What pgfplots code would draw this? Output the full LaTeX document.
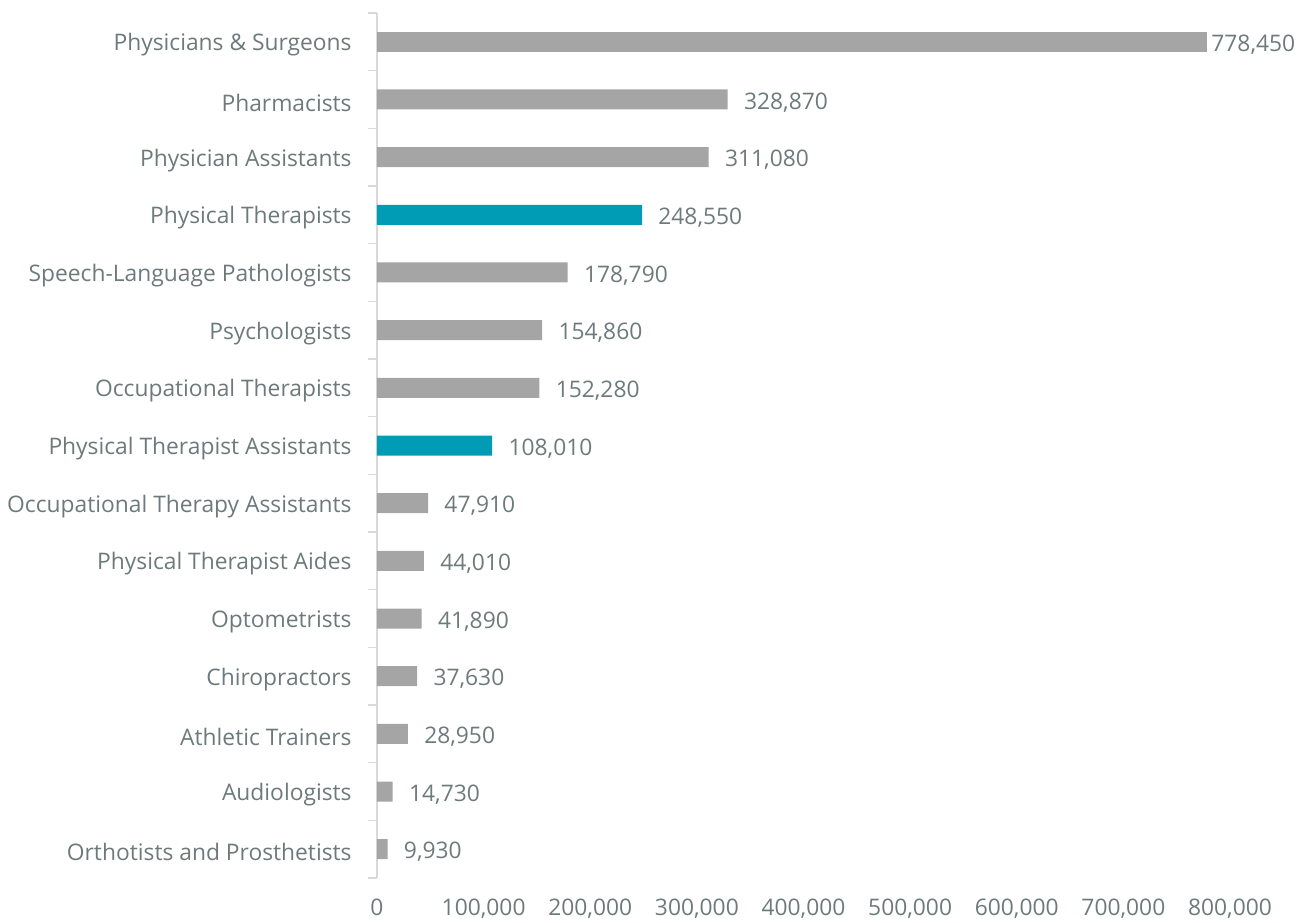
\documentclass[border=0pt]{standalone}
\usepackage{fontspec}
\setmainfont{Open Sans}
\usepackage{pgfplots}
\pgfplotsset{compat=1.18}
\definecolor{barGray}{HTML}{A5A5A5}
\definecolor{barTeal}{HTML}{009CB5}
\definecolor{txtGray}{HTML}{6E7A7A}
\definecolor{axGray}{HTML}{D9D9D9}

\begin{document}
\begin{tikzpicture}
\useasboundingbox (-188.5pt,-22pt) rectangle (461pt,439pt);
\begin{axis}[
    at={(0,0)}, anchor=south west,
    scale only axis,
    width=426.5pt, height=432.5pt,
    xbar, bar width=10pt, bar shift=0pt,
    xmin=0, xmax=800000,
    ymin=-0.5, ymax=14.5,
    axis x line*=bottom,
    axis y line*=left,
    x axis line style={draw=none},
    y axis line style={draw=axGray, line width=0.75pt},
    ytick={0,...,14},
    yticklabels={Orthotists and Prosthetists, Audiologists, Athletic Trainers, Chiropractors, Optometrists, Physical Therapist Aides, Occupational Therapy Assistants, Physical Therapist Assistants, Occupational Therapists, Psychologists, Speech-Language Pathologists, Physical Therapists, Physician Assistants, Pharmacists, Physicians \& Surgeons},
    major tick length=0pt,
    minor ytick={-0.5,0.5,...,14.5},
    minor tick length=4.5pt,
    tick align=outside,
    minor tick style={draw=axGray, line width=0.75pt},
    yticklabel style={font=\fontsize{11.4}{13}\selectfont, text=txtGray, anchor=east, inner sep=0pt, yshift=-1.5pt},
    yticklabel shift=12.5pt,
    /pgf/number format/.cd, fixed, 1000 sep={,}, assume math mode=true,
    /pgfplots/.cd,
    xtick={0,100000,...,800000},
    scaled x ticks=false,
    xticklabel style={font=\fontsize{11.4}{13}\selectfont, text=txtGray, anchor=base, inner sep=0pt, yshift=-18.5pt},
    nodes near coords,
    every node near coord/.append style={font=\fontsize{11.4}{13}\selectfont, text=txtGray, anchor=west, inner sep=0pt, xshift=8pt, yshift=-1.5pt},
    clip=false,
]
\addplot[fill=barGray, draw=none] coordinates {
    (9930,0) (14730,1) (28950,2) (37630,3) (41890,4) (44010,5) (47910,6)
    (152280,8) (154860,9) (178790,10) (311080,12) (328870,13)
};
\addplot[fill=barTeal, draw=none] coordinates {
    (108010,7) (248550,11)
};
\addplot[fill=barGray, draw=none, every node near coord/.append style={xshift=-6pt}] coordinates {
    (778450,14)
};
\end{axis}
\end{tikzpicture}
\end{document}
